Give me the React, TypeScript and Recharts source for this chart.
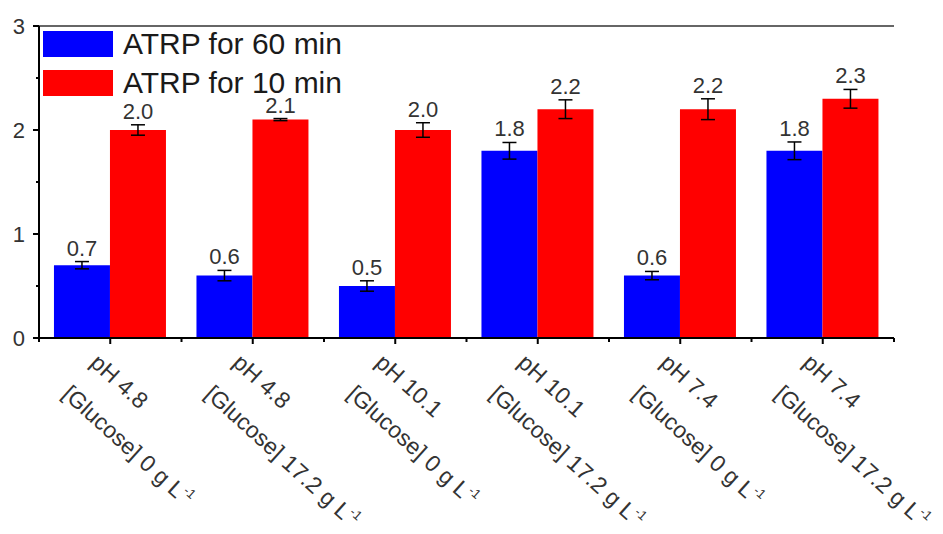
import React from "react"
import {
  BarChart,
  Bar,
  XAxis,
  YAxis,
  ErrorBar,
  LabelList,
  Legend,
  ReferenceLine,
} from "recharts"

const phLabels = ["pH 4.8", "pH 4.8", "pH 10.1", "pH 10.1", "pH 7.4", "pH 7.4"]
const glucoseLabels = ["0", "17.2", "0", "17.2", "0", "17.2"]
const seriesNames = ["ATRP for 60 min", "ATRP for 10 min"]
const atrp60 = [0.7, 0.6, 0.5, 1.8, 0.6, 1.8]
const atrp60Err = [0.035, 0.05, 0.05, 0.08, 0.04, 0.085]
const atrp10 = [2.0, 2.1, 2.0, 2.2, 2.2, 2.3]
const atrp10Err = [0.05, 0.01, 0.07, 0.09, 0.1, 0.09]
const yTicks = [0, 0.5, 1, 1.5, 2, 2.5, 3]

const FONT = '"Liberation Sans", Arial, sans-serif'

const data = phLabels.map((ph, i) => ({
  cat: i,
  ph,
  glucose: glucoseLabels[i],
  v60: atrp60[i],
  e60: atrp60Err[i],
  v10: atrp10[i],
  e10: atrp10Err[i],
}))

/** Two-line rotated category label plus major/minor tick marks. */
function XTick(props: any) {
  const { x, y, payload, index } = props
  const half = payload?.offset ?? 71.25
  const i = payload.value as number
  return (
    <g>
      <line x1={x} x2={x} y1={y} y2={y + 6} stroke="#000" strokeWidth={2} />
      <line x1={x - half} x2={x - half} y1={y} y2={y + 4} stroke="#000" strokeWidth={2} />
      {index === data.length - 1 && (
        <line x1={x + half} x2={x + half} y1={y} y2={y + 4} stroke="#000" strokeWidth={2} />
      )}
      <text
        transform={`translate(${x},${y}) rotate(42)`}
        fontSize={23}
        fill="#333"
        fontFamily={FONT}
        textAnchor="start"
      >
        <tspan x={2} y={34}>{phLabels[i]}</tspan>
        <tspan x={2} y={76}>
          [Glucose] {glucoseLabels[i]} g L
          <tspan dy={-10} fontSize={13}>-1</tspan>
        </tspan>
      </text>
    </g>
  )
}

function YTick(props: any) {
  const { x, y, payload } = props
  const v = payload.value as number
  const major = Number.isInteger(v)
  return (
    <g>
      <line x1={x} x2={x - (major ? 6 : 3)} y1={y} y2={y} stroke="#000" strokeWidth={2} />
      {major && (
        <text x={x - 14} y={y + 8} textAnchor="end" fontSize={22} fill="#333" fontFamily={FONT}>
          {v}
        </text>
      )}
    </g>
  )
}

// value label sitting just above the error bar cap (px per unit taken from the bar itself)
function makeValueLabel(errs: number[]) {
  return function ValueLabel(p: any) {
    const vb = p.viewBox ?? p
    const bx = Number(vb.x ?? p.x)
    const by = Number(vb.y ?? p.y)
    const bw = Number(vb.width ?? p.width)
    const bh = Math.abs(Number(vb.height ?? p.height))
    const value = Number(p.value)
    const err = errs[p.index] ?? 0
    const errPx = value ? (err * bh) / value : 0
    return (
      <text
        x={bx + bw / 2}
        y={by - errPx - 6}
        textAnchor="middle"
        fontSize={22}
        fill="#333"
        fontFamily={FONT}
      >
        {value.toFixed(1)}
      </text>
    )
  }
}

function LegendBox(props: any) {
  const items = [...((props.payload ?? []) as { value: string; color: string }[])].sort(
    (a, b) => seriesNames.indexOf(a.value) - seriesNames.indexOf(b.value)
  )
  return (
    <div style={{ fontFamily: FONT }}>
      {items.map((it) => (
        <div key={it.value} style={{ display: "flex", alignItems: "center", height: 38.5 }}>
          <span style={{ display: "inline-block", width: 70, height: 26, background: it.color, marginRight: 10 }} />
          <span style={{ fontSize: 30, lineHeight: 0.75, color: "#1a1a1a", whiteSpace: "nowrap" }}>{it.value}</span>
        </div>
      ))}
    </div>
  )
}

export default function App() {
  return (
    <div style={{ position: "absolute", left: 0, top: 0, background: "#fff" }}>
      <BarChart
        width={943}
        height={534}
        data={data}
        margin={{ top: 26, right: 49, bottom: 0, left: 0 }}
        barCategoryGap="10.5%"
        barGap={0}
      >
        <XAxis
          dataKey="cat"
          height={196}
          interval={0}
          tickSize={0}
          tickMargin={0}
          tickLine={false}
          axisLine={{ stroke: "#000", strokeWidth: 2 }}
          tick={<XTick />}
        />
        <YAxis
          width={39}
          domain={[0, 3]}
          ticks={yTicks}
          interval={0}
          tickSize={0}
          tickMargin={0}
          tickLine={false}
          axisLine={{ stroke: "#000", strokeWidth: 2 }}
          tick={<YTick />}
        />
        <YAxis
          yAxisId="right"
          orientation="right"
          width={0}
          domain={[0, 3]}
          tick={false}
          tickLine={false}
          axisLine={{ stroke: "#333", strokeWidth: 1.5 }}
        />
        <ReferenceLine y={3} stroke="#333" strokeWidth={1.5} />
        <Legend
          layout="vertical"
          align="center"
          verticalAlign="middle"
          wrapperStyle={{ left: 43, top: 25, width: 330, height: 76 }}
          content={<LegendBox />}
        />
        <Bar dataKey="v60" name={seriesNames[0]} fill="#0000ff" isAnimationActive={false}>
          <ErrorBar dataKey="e60" width={7} stroke="#000" strokeWidth={1.5} isAnimationActive={false} />
          <LabelList dataKey="v60" content={makeValueLabel(atrp60Err)} />
        </Bar>
        <Bar dataKey="v10" name={seriesNames[1]} fill="#ff0000" isAnimationActive={false}>
          <ErrorBar dataKey="e10" width={7} stroke="#000" strokeWidth={1.5} isAnimationActive={false} />
          <LabelList dataKey="v10" content={makeValueLabel(atrp10Err)} />
        </Bar>
      </BarChart>
    </div>
  )
}
